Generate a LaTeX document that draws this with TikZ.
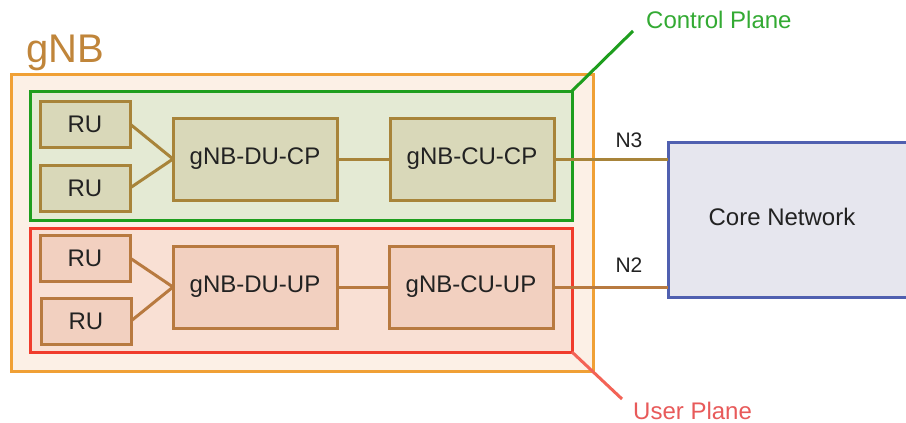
\documentclass[tikz,border=0pt]{standalone}
\usepackage{fontspec}
\setmainfont{Liberation Sans}
\definecolor{gnbline}{HTML}{F0A035}
\definecolor{gnbfill}{HTML}{FCF0E6}
\definecolor{gnbtext}{HTML}{C0853A}
\definecolor{cpline}{HTML}{1E9E1E}
\definecolor{cpfill}{HTML}{E4EAD4}
\definecolor{cptext}{HTML}{33AA33}
\definecolor{upline}{HTML}{F03C2C}
\definecolor{upfill}{HTML}{F9E0D4}
\definecolor{uptext}{HTML}{E85A5A}
\definecolor{cpbox}{HTML}{D9D8B9}
\definecolor{cpedge}{HTML}{A8843A}
\definecolor{upbox}{HTML}{F2D0C0}
\definecolor{upedge}{HTML}{B87A40}
\definecolor{corefill}{HTML}{E6E6EE}
\definecolor{coreline}{HTML}{5060B0}
\definecolor{ink}{HTML}{222222}
\tikzset{
  frame/.style={draw, line width=3pt, inner sep=0pt, outer sep=0pt},
  cpunit/.style={frame, fill=cpbox, draw=cpedge, text=ink},
  upunit/.style={frame, fill=upbox, draw=upedge, text=ink},
  txt/.style={font=\fontsize{24}{28}\selectfont},
  small/.style={font=\fontsize{21}{25}\selectfont},
  cplink/.style={draw=cpedge, line width=3pt},
  uplink/.style={draw=upedge, line width=3pt},
}
\begin{document}
\begin{tikzpicture}[x=1pt,y=-1pt]
\clip (0,0) rectangle (906,423);
\fill[white] (0,0) rectangle (906,423);

% gNB container and the two planes
\node[frame, draw=gnbline, fill=gnbfill, minimum width=582pt, minimum height=297pt] (gnb) at (302,222.5) {};
\node[anchor=base west, text=gnbtext, font=\fontsize{40}{46}\selectfont, inner sep=0pt] (gnblabel) at (26,62) {gNB};
\node[frame, draw=cpline, fill=cpfill, minimum width=542pt, minimum height=129pt] (cp) at (301,155.5) {};
\node[frame, draw=upline, fill=upfill, minimum width=542pt, minimum height=124pt] (up) at (301,290) {};

% control plane units
\node[cpunit, txt, minimum width=90pt, minimum height=46pt] (ru1) at (85,124) {RU};
\node[cpunit, txt, minimum width=90pt, minimum height=46pt] (ru2) at (85,188) {RU};
\node[cpunit, txt, minimum width=164pt, minimum height=82pt] (ducp) at (255,159) {gNB-DU-CP};
\node[cpunit, txt, minimum width=164pt, minimum height=82pt] (cucp) at (472,159) {gNB-CU-CP};

% user plane units
\node[upunit, txt, minimum width=90pt, minimum height=46pt] (ru3) at (85,258) {RU};
\node[upunit, txt, minimum width=90pt, minimum height=46pt] (ru4) at (86,321) {RU};
\node[upunit, txt, minimum width=164pt, minimum height=82pt] (duup) at (255,287) {gNB-DU-UP};
\node[upunit, txt, minimum width=164pt, minimum height=82pt] (cuup) at (471,287) {gNB-CU-UP};

% core network
\node[frame, draw=coreline, fill=corefill, minimum width=262pt, minimum height=155pt] (core) at (799,219.5) {};
\node[txt, text=ink] (coretext) at (782,217) {Core Network};

% links
\draw[cplink] (ru1.east) -- (ducp.west);
\draw[cplink] (ru2.east) -- (ducp.west);
\draw[cplink] (ducp.east) -- (cucp.west);
\draw[cplink] (cucp.east) -- (cucp.east -| core.west);
\draw[uplink] (ru3.east) -- (duup.west);
\draw[uplink] (ru4.east) -- (duup.west);
\draw[uplink] (duup.east) -- (cuup.west);
\draw[uplink] (cuup.east) -- (cuup.east -| core.west);
\node[small, text=ink] (n3) at (629,140) {N3};
\node[small, text=ink] (n2) at (629,265) {N2};

% plane callouts
\coordinate (cpend) at (633,31);
\coordinate (upend) at (622,399);
\draw[cpline, line width=3pt] (cp.north east) -- (cpend);
\draw[upline!80!white, line width=3pt] (up.south east) -- (upend);
\node[txt, text=cptext, anchor=west, inner sep=0pt] (cplabel) at (646,20) {Control Plane};
\node[txt, text=uptext, anchor=west, inner sep=0pt] (uplabel) at (633,411) {User Plane};
\end{tikzpicture}
\end{document}
